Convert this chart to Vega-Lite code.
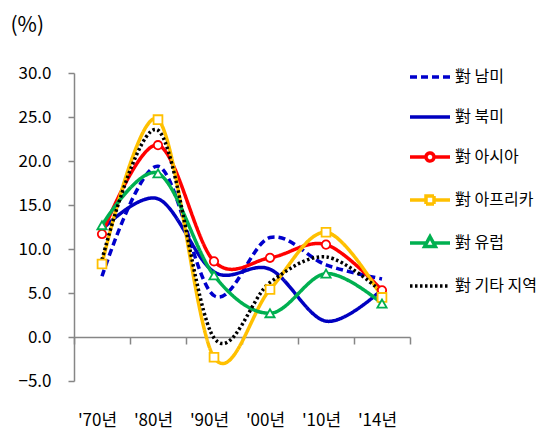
{
  "$schema": "https://vega.github.io/schema/vega-lite/v6.json",
  "width": 336,
  "height": 308,
  "autosize": "none",
  "padding": {"left": 74, "top": 73, "right": 145, "bottom": 64},
  "background": "white",
  "config": {"view": {"stroke": null}, "font": "Noto Sans CJK KR"},
  "data": {
    "values": [
      {"x": "'70년", "s": "對 남미", "v": 6.9},
      {"x": "'80년", "s": "對 남미", "v": 19.4},
      {"x": "'90년", "s": "對 남미", "v": 4.7},
      {"x": "'00년", "s": "對 남미", "v": 11.3},
      {"x": "'10년", "s": "對 남미", "v": 8.2},
      {"x": "'14년", "s": "對 남미", "v": 6.6},
      {"x": "'70년", "s": "對 북미", "v": 12.2},
      {"x": "'80년", "s": "對 북미", "v": 15.7},
      {"x": "'90년", "s": "對 북미", "v": 7.4},
      {"x": "'00년", "s": "對 북미", "v": 7.7},
      {"x": "'10년", "s": "對 북미", "v": 1.8},
      {"x": "'14년", "s": "對 북미", "v": 5.4},
      {"x": "'70년", "s": "對 아시아", "v": 11.7},
      {"x": "'80년", "s": "對 아시아", "v": 21.8},
      {"x": "'90년", "s": "對 아시아", "v": 8.6},
      {"x": "'00년", "s": "對 아시아", "v": 9.0},
      {"x": "'10년", "s": "對 아시아", "v": 10.5},
      {"x": "'14년", "s": "對 아시아", "v": 5.3},
      {"x": "'70년", "s": "對  아프리카", "v": 8.3},
      {"x": "'80년", "s": "對  아프리카", "v": 24.7},
      {"x": "'90년", "s": "對  아프리카", "v": -2.3},
      {"x": "'00년", "s": "對  아프리카", "v": 5.4},
      {"x": "'10년", "s": "對  아프리카", "v": 11.9},
      {"x": "'14년", "s": "對  아프리카", "v": 4.5},
      {"x": "'70년", "s": "對 유럽", "v": 12.7},
      {"x": "'80년", "s": "對 유럽", "v": 18.6},
      {"x": "'90년", "s": "對 유럽", "v": 7.0},
      {"x": "'00년", "s": "對 유럽", "v": 2.7},
      {"x": "'10년", "s": "對 유럽", "v": 7.2},
      {"x": "'14년", "s": "對 유럽", "v": 3.8},
      {"x": "'70년", "s": "對 기타 지역", "v": 8.8},
      {"x": "'80년", "s": "對 기타 지역", "v": 23.5},
      {"x": "'90년", "s": "對 기타 지역", "v": -0.1},
      {"x": "'00년", "s": "對 기타 지역", "v": 6.2},
      {"x": "'10년", "s": "對 기타 지역", "v": 9.1},
      {"x": "'14년", "s": "對 기타 지역", "v": 5.1}
    ]
  },
  "layer": [
    {
      "mark": {"type": "line", "interpolate": "cardinal"},
      "encoding": {
        "x": {
          "field": "x", "type": "ordinal", "sort": null,
          "scale": {"type": "band", "paddingInner": 0, "paddingOuter": 0},
          "axis": {
            "title": null, "offset": -44, "domainColor": "#868686", "domainWidth": 1.5,
            "tickColor": "#868686", "tickWidth": 1.5, "tickSize": 7, "tickBand": "extent",
            "labelPadding": 68, "labelFontSize": 17, "labelAngle": 0, "labelOffset": -5,
            "labelColor": "black", "labelFontWeight": "normal", "grid": false
          }
        },
        "y": {
          "field": "v", "type": "quantitative",
          "scale": {"domain": [-5, 30], "nice": false, "zero": false},
          "axis": {
            "values": [-5, 0, 5, 10, 15, 20, 25, 30], "format": ".1f", "grid": false,
            "domainColor": "#868686", "domainWidth": 1.5, "tickColor": "#868686", "tickWidth": 1.5,
            "tickSize": 6, "labelPadding": 17, "labelFontSize": 17, "labelColor": "black", "labelFontWeight": "normal",
            "title": "(%)", "titleAngle": 0, "titleX": -64, "titleY": -48, "titleAlign": "left",
            "titleBaseline": "middle", "titleFontSize": 21, "titleFontWeight": "normal", "titleColor": "black"
          }
        },
        "color": {
          "field": "s", "type": "nominal", "sort": null,
          "scale": {
            "domain": ["對 남미", "對 북미", "對 아시아", "對  아프리카", "對 유럽", "對 기타 지역"],
            "range": ["#0000CC", "#0000C0", "#FF0000", "#FFC000", "#00B050", "#000000"]
          },
          "legend": {
            "title": null, "orient": "none", "legendX": 334, "legendY": -18, "padding": 0,
            "symbolSize": 1600, "symbolType": "stroke", "rowPadding": 10,
            "labelFontSize": 16, "labelFontWeight": "normal", "labelOffset": 3, "labelColor": "black", "symbolStrokeWidth": 3.5,
            "encode": {
              "symbols": {
                "update": {
                  "shape": {"signal": "datum.value === '對 아시아' ? 'M-1,0H-0.2M0.2,0H1M-0.2,0A0.2,0.2,0,1,0,0.2,0A0.2,0.2,0,1,0,-0.2,0Z' : datum.value === '對  아프리카' ? 'M-1,0H-0.2M0.2,0H1M-0.2,-0.2H0.2V0.2H-0.2Z' : datum.value === '對 유럽' ? 'M-1,0H-0.17M0.17,0H1M0,-0.32L0.27,0.18H-0.27Z' : 'stroke'"},
                  "fill": {"value": "white"},
                  "strokeDash": {"signal": "datum.value === '對 남미' ? [5, 2.5] : datum.value === '對 기타 지역' ? [2, 2] : []"},
                  "strokeWidth": {"signal": "datum.value === '對 기타 지역' ? 2 : 3.5"}
                }
              }
            }
          }
        },
        "strokeDash": {
          "field": "s", "type": "nominal",
          "scale": {
            "domain": ["對 남미", "對 북미", "對 아시아", "對  아프리카", "對 유럽", "對 기타 지역"],
            "range": [[7, 4], [1, 0], [1, 0], [1, 0], [1, 0], [2.5, 2.5]]
          },
          "legend": null
        },
        "strokeWidth": {
          "field": "s", "type": "nominal",
          "scale": {
            "domain": ["對 남미", "對 북미", "對 아시아", "對  아프리카", "對 유럽", "對 기타 지역"],
            "range": [3.5, 3.5, 3.5, 3.5, 3.5, 3]
          },
          "legend": null
        }
      }
    },
    {
      "transform": [{"filter": "indexof(['對 아시아', '對  아프리카', '對 유럽'], datum.s) >= 0"}],
      "mark": {"type": "point", "filled": false, "fill": "white", "fillOpacity": 1, "strokeWidth": 1.8, "opacity": 1},
      "encoding": {
        "x": {"field": "x", "type": "ordinal", "sort": null},
        "y": {"field": "v", "type": "quantitative"},
        "color": {"field": "s", "type": "nominal", "sort": null},
        "shape": {
          "field": "s", "type": "nominal",
          "scale": {"domain": ["對 아시아", "對  아프리카", "對 유럽"], "range": ["circle", "square", "triangle-up"]},
          "legend": null
        },
        "size": {
          "field": "s", "type": "nominal",
          "scale": {"domain": ["對 아시아", "對  아프리카", "對 유럽"], "range": [70, 85, 90]},
          "legend": null
        }
      }
    }
  ]
}
